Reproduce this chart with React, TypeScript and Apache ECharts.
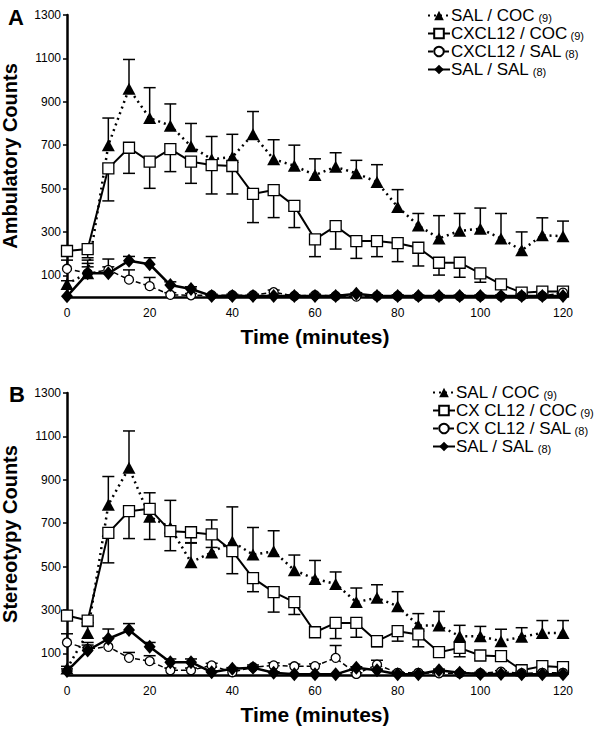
import React, { useEffect, useRef } from "react";
import * as echarts from "echarts";

const minutes = [0, 5, 10, 15, 20, 25, 30, 35, 40, 45, 50, 55, 60, 65, 70, 75, 80, 85, 90, 95, 100, 105, 110, 115, 120];
const yTickValues = [100, 300, 500, 700, 900, 1100, 1300];

const groupsA = ["SAL / COC", "CXCL12 / COC", "CXCL12 / SAL", "SAL / SAL"];
const groupsB = ["SAL / COC", "CX CL12 / COC", "CX CL12 / SAL", "SAL / SAL"];
const groupN = ["(9)", "(9)", "(8)", "(8)"];

// Panel A: Ambulatory counts
const ambSalCoc = [60, 110, 700, 960, 825, 790, 695, 635, 645, 750, 635, 605, 562, 600, 570, 530, 415, 330, 270, 305, 315, 270, 215, 285, 280];
const ambSalCocErr = [15, 60, 125, 135, 140, 100, 105, 105, 105, 105, 90, 95, 75, 65, 60, 80, 80, 55, 105, 80, 95, 115, 85, 80, 70];
const ambCxCoc = [212, 221, 593, 688, 624, 682, 624, 608, 604, 475, 493, 420, 266, 327, 258, 258, 248, 227, 158, 158, 109, 58, 20, 25, 25];
const ambCxCocErr = [10, 40, 150, 118, 123, 104, 100, 133, 129, 132, 127, 100, 80, 106, 80, 72, 85, 84, 57, 67, 41, 15, 5, 5, 5];
const ambCxSal = [130, 110, 125, 80, 50, 10, 8, 8, 8, 8, 22, 5, 8, 5, 2, 5, 5, 3, 3, 3, 3, 3, 5, 5, 20];
const ambCxSalErr = [40, 45, 50, 45, 40, 10, 8, 5, 5, 5, 10, 5, 5, 5, 5, 5, 5, 5, 5, 5, 5, 5, 5, 5, 15];
const ambSalSal = [3, 109, 109, 167, 151, 55, 37, 5, 5, 5, 5, 5, 5, 5, 15, 5, 5, 5, 5, 5, 5, 5, 5, 5, 5];
const ambSalSalErr = [0, 30, 30, 20, 30, 15, 10, 3, 3, 3, 3, 3, 3, 3, 5, 3, 3, 3, 3, 3, 3, 3, 3, 3, 3];

// Panel B: Stereotypy counts
const stSalCoc = [30, 194, 785, 955, 730, 680, 520, 565, 615, 555, 570, 483, 443, 420, 336, 356, 317, 228, 228, 179, 179, 156, 176, 194, 194];
const stSalCocErr = [10, 30, 130, 170, 110, 125, 90, 150, 160, 125, 95, 70, 85, 55, 65, 60, 67, 55, 65, 50, 45, 55, 42, 57, 57];
const stCxCoc = [274, 251, 655, 755, 766, 663, 658, 648, 571, 447, 382, 336, 197, 240, 240, 156, 202, 187, 105, 125, 90, 87, 22, 41, 36];
const stCxCocErr = [10, 10, 138, 126, 141, 90, 50, 60, 104, 63, 92, 57, 20, 72, 66, 26, 46, 57, 15, 41, 15, 15, 5, 5, 5];
const stCxSal = [150, 120, 130, 79, 64, 22, 22, 44, 13, 36, 44, 40, 41, 79, 5, 48, 10, 10, 8, 8, 8, 15, 8, 10, 10];
const stCxSalErr = [40, 30, 40, 25, 25, 10, 10, 10, 10, 10, 12, 10, 10, 57, 5, 20, 5, 5, 5, 5, 5, 5, 5, 5, 5];
const stSalSal = [18, 113, 167, 207, 130, 59, 59, 13, 29, 33, 10, 3, 3, 3, 33, 22, 3, 3, 22, 10, 5, 5, 3, 3, 3];
const stSalSalErr = [10, 25, 45, 30, 20, 15, 15, 5, 5, 5, 5, 3, 3, 3, 5, 5, 3, 3, 5, 5, 3, 3, 3, 3, 3];

const FONT = "Arial, 'Liberation Sans', sans-serif";

type Style = {
  symbol: string;
  symbolSize: number | number[];
  fill: string;
  lineType: any;
  lineWidth: number;
  errDir: number;
};

const styles: Style[] = [
  { symbol: "triangle", symbolSize: [13, 12], fill: "#000", lineType: [2, 4], lineWidth: 2.5, errDir: 1 },
  { symbol: "rect", symbolSize: 11, fill: "#fff", lineType: "solid", lineWidth: 2, errDir: -1 },
  { symbol: "circle", symbolSize: 9, fill: "#fff", lineType: [5, 3], lineWidth: 1.5, errDir: 1 },
  { symbol: "diamond", symbolSize: [12, 14], fill: "#000", lineType: "solid", lineWidth: 2.5, errDir: 1 },
];

function errRender(dir: number) {
  return (params: any, api: any) => {
    const x = api.value(0);
    const y = api.value(1);
    const e = api.value(2);
    if (!e) return null;
    const p0 = api.coord([x, y]);
    const p1 = api.coord([x, y + dir * e]);
    const hw = 6;
    const st = { stroke: "#000", lineWidth: 1.5 };
    return {
      type: "group",
      children: [
        { type: "line", shape: { x1: p0[0], y1: p0[1], x2: p1[0], y2: p1[1] }, style: st },
        { type: "line", shape: { x1: p1[0] - hw, y1: p1[1], x2: p1[0] + hw, y2: p1[1] }, style: st },
      ],
    };
  };
}

function buildSeries(panel: string, idx: number, values: number[][], errs: number[][]) {
  const out: any[] = [];
  values.forEach((vals, i) => {
    const s = styles[i];
    out.push({
      type: "custom",
      name: `${panel}|err${i}`,
      xAxisIndex: idx,
      yAxisIndex: idx,
      z: 1,
      renderItem: errRender(s.errDir),
      encode: { x: 0, y: 1 },
      data: minutes.map((t, k) => [t, vals[k], errs[i][k]]),
      silent: true,
    });
  });
  values.forEach((vals, i) => {
    const s = styles[i];
    const label = panel === "A" ? groupsA[i] : groupsB[i];
    out.push({
      type: "line",
      name: `${panel}|${i}|${label}`,
      xAxisIndex: idx,
      yAxisIndex: idx,
      z: 3 + i,
      symbol: s.symbol,
      symbolSize: s.symbolSize,
      showAllSymbol: true,
      itemStyle: { color: s.fill, borderColor: "#000", borderWidth: s.fill === "#fff" ? 1.3 : 0 },
      lineStyle: { color: "#000", type: s.lineType, width: s.lineWidth },
      data: minutes.map((t, k) => [t, vals[k]]),
    });
  });
  return out;
}

export default function App() {
  const ref = useRef<HTMLDivElement>(null);
  useEffect(() => {
    if (!ref.current) return;
    const chart = echarts.init(ref.current, undefined, { renderer: "svg" });

    const gridTops = [15, 393];
    const yNames = ["Ambulatory Counts", "Stereotypy Counts"];

    const xAxis = gridTops.map((_, i) => ({
      type: "value",
      gridIndex: i,
      min: 0,
      max: 120,
      interval: 20,
      name: "Time (minutes)",
      nameLocation: "middle",
      nameGap: 29,
      nameTextStyle: { fontFamily: FONT, fontWeight: "bold", fontSize: 21, color: "#000" },
      axisLine: { lineStyle: { color: "#000", width: 2.5 } },
      axisTick: { show: false },
      axisLabel: { fontFamily: FONT, fontSize: 12, color: "#000", margin: 10 },
      splitLine: { show: false },
    }));
    const yAxis = gridTops.map((_, i) => ({
      type: "value",
      gridIndex: i,
      min: 0,
      max: 1300,
      name: yNames[i],
      nameLocation: "middle",
      nameGap: 47,
      nameTextStyle: { fontFamily: FONT, fontWeight: "bold", fontSize: 20, color: "#000" },
      axisLine: { show: true, lineStyle: { color: "#000", width: 2.5 } },
      axisTick: { show: true, length: 4, customValues: yTickValues, lineStyle: { color: "#000", width: 1.5 } },
      axisLabel: {
        fontFamily: FONT,
        fontSize: 12,
        color: "#000",
        margin: 6,
        customValues: yTickValues,
        formatter: (v: number) => String(v),
      },
      splitLine: { show: false },
    }));

    const seriesA = buildSeries("A", 0, [ambSalCoc, ambCxCoc, ambCxSal, ambSalSal], [ambSalCocErr, ambCxCocErr, ambCxSalErr, ambSalSalErr]);
    const seriesB = buildSeries("B", 1, [stSalCoc, stCxCoc, stCxSal, stSalSal], [stSalCocErr, stCxCocErr, stCxSalErr, stSalSalErr]);

    const legendBase = {
      orient: "vertical",
      itemWidth: 22,
      itemHeight: 12,
      itemGap: 1,
      selectedMode: false,
      textStyle: {
        color: "#000",
        fontFamily: FONT,
        padding: [0, 0, 0, -4],
        rich: {
          a: { fontFamily: FONT, fontSize: 17, color: "#000", lineHeight: 17 },
          b: { fontFamily: FONT, fontSize: 11, color: "#000", lineHeight: 12, padding: [5, 0, 0, 0] },
        },
      },
      formatter: (name: string) => {
        const parts = name.split("|");
        const i = Number(parts[1]);
        return `{a|${parts[2]}} {b|${groupN[i]}}`;
      },
    };

    chart.setOption({
      animation: false,
      backgroundColor: "#fff",
      grid: gridTops.map((top) => ({ left: 67, top, width: 496, height: 282, outerBoundsMode: "none", containLabel: false })),
      xAxis,
      yAxis,
      legend: [
        { ...legendBase, left: 422, top: 2, data: seriesA.filter((s) => s.type === "line").map((s) => s.name) },
        { ...legendBase, left: 427, top: 379, data: seriesB.filter((s) => s.type === "line").map((s) => s.name) },
      ],
      graphic: [
        { type: "text", left: 8, top: 6, style: { text: "A", fontFamily: FONT, fontWeight: "bold", fontSize: 22, fill: "#000" } },
        { type: "text", left: 9, top: 383, style: { text: "B", fontFamily: FONT, fontWeight: "bold", fontSize: 22, fill: "#000" } },
      ],
      series: [...seriesA, ...seriesB],
    });
    return () => chart.dispose();
  }, []);
  return <div ref={ref} style={{ position: "fixed", left: 0, top: 0, width: 602, height: 732 }} />;
}
